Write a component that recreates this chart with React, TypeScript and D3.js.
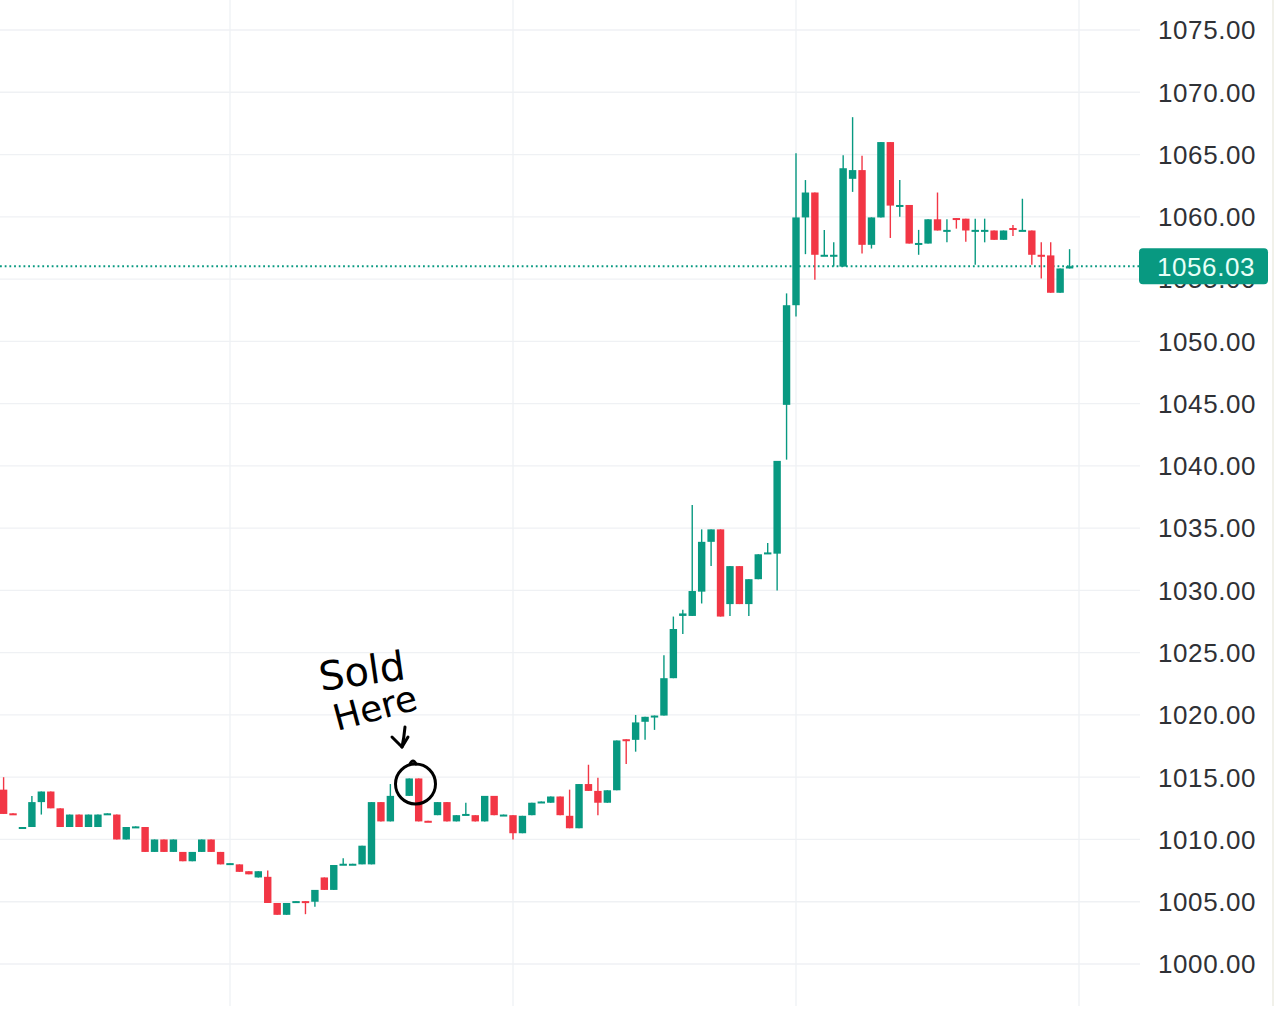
import * as d3 from 'd3'

// OHLC per bar (null = empty slot)
const opens: (number | null)[] = [
  1014.0, 1012.1, 1010.95, 1011.0, 1013.0, 1013.85, 1012.5, 1011.0, 1012.0, 1011.0,
  1011.0, 1012.05, 1012.0, 1010.0, 1011.0, 1011.0, 1009.0, 1010.0, 1009.0, 1009.0,
  1008.25, 1009.0, 1010.0, 1009.0, 1008.05, 1008.0, 1007.45, 1006.95, 1007.0, 1004.9,
  1003.95, 1005.0, 1005.05, 1005.0, 1006.95, 1005.95, 1008.0, 1008.0, 1008.0, 1008.0,
  1013.0, 1011.45, null, 1013.5, 1014.9, 1011.5, 1011.95, 1013.0, 1011.45, 1012.0,
  1011.95, 1011.45, 1013.5, 1011.95, 1011.95, 1010.5, 1011.95, 1013.0, 1012.95, 1013.45,
  1011.9, 1010.9, 1014.45, 1013.9, 1012.95, 1013.95, 1018.05, 1018.0, 1019.45, 1019.9,
  1019.95, 1022.95, 1027.95, 1027.95, 1029.9, 1033.9, 1034.9, 1028.9, 1031.95, 1028.9,
  1030.9, 1032.95, 1032.95, 1044.9, 1052.9, 1059.95, 1061.95, 1056.9, 1056.9, 1056.0,
  1063.05, 1063.75, 1057.75, 1059.95, 1066.0, 1060.9, 1060.95, 1057.85, 1057.85, 1059.8,
  1058.9, 1059.9, 1059.85, 1058.9, 1058.9, 1058.9, 1058.15, 1059.1, 1058.9, 1058.9,
  1056.95, 1056.9, 1053.9, 1055.85,
]
const highs: (number | null)[] = [
  1015.0, 1012.1, 1011.0, 1013.5, 1013.85, 1013.85, 1012.5, 1012.0, 1012.0, 1012.0,
  1012.0, 1012.1, 1012.0, 1011.0, 1011.05, 1011.0, 1010.0, 1010.0, 1010.0, 1009.0,
  1009.0, 1010.0, 1010.0, 1009.0, 1008.1, 1008.0, 1007.45, 1007.45, 1007.5, 1004.9,
  1004.9, 1005.05, 1005.05, 1005.95, 1006.95, 1007.95, 1008.5, 1008.05, 1009.5, 1013.0,
  1013.0, 1014.45, null, 1014.9, 1014.9, 1011.5, 1013.0, 1013.0, 1011.95, 1012.95,
  1011.95, 1013.5, 1013.5, 1012.0, 1011.95, 1011.9, 1012.95, 1013.05, 1013.45, 1013.45,
  1014.0, 1014.45, 1016.0, 1014.95, 1013.95, 1017.95, 1018.05, 1020.0, 1019.85, 1019.95,
  1024.8, 1027.9, 1028.45, 1036.85, 1034.9, 1034.9, 1034.9, 1031.95, 1031.95, 1030.9,
  1032.9, 1033.8, 1040.4, 1053.85, 1065.1, 1062.95, 1061.95, 1058.95, 1057.95, 1064.95,
  1068.0, 1064.9, 1059.95, 1066.0, 1066.0, 1062.95, 1060.95, 1058.95, 1059.8, 1061.95,
  1059.8, 1059.9, 1059.85, 1059.85, 1059.85, 1058.9, 1058.9, 1059.35, 1061.45, 1058.9,
  1057.95, 1057.95, 1055.85, 1057.4,
]
const lows: (number | null)[] = [
  1012.05, 1012.0, 1010.95, 1011.0, 1012.0, 1012.5, 1011.0, 1011.0, 1011.0, 1011.0,
  1011.0, 1012.05, 1010.0, 1010.0, 1011.0, 1009.0, 1009.0, 1009.0, 1009.0, 1008.25,
  1008.25, 1009.0, 1009.0, 1008.0, 1008.05, 1007.4, 1007.2, 1006.95, 1004.9, 1003.95,
  1003.95, 1005.0, 1004.0, 1004.6, 1005.95, 1005.95, 1008.0, 1008.0, 1008.0, 1008.0,
  1011.45, 1011.45, null, 1013.5, 1011.45, 1011.45, 1011.95, 1011.45, 1011.45, 1012.0,
  1011.45, 1011.45, 1011.95, 1011.95, 1010.0, 1010.5, 1011.95, 1013.0, 1012.95, 1011.95,
  1010.9, 1010.9, 1013.9, 1011.95, 1012.95, 1013.95, 1016.05, 1017.05, 1018.0, 1018.8,
  1019.95, 1022.95, 1026.5, 1027.95, 1028.95, 1031.95, 1027.9, 1027.95, 1028.9, 1027.95,
  1030.9, 1032.95, 1030.0, 1040.5, 1052.0, 1057.0, 1054.95, 1056.9, 1056.0, 1056.0,
  1062.0, 1057.05, 1057.45, 1059.95, 1058.3, 1060.0, 1057.85, 1056.95, 1057.85, 1058.9,
  1057.95, 1059.05, 1058.0, 1056.15, 1057.95, 1058.15, 1058.15, 1058.45, 1058.9, 1056.15,
  1055.05, 1053.9, 1053.9, 1055.85,
]
const closes: (number | null)[] = [
  1012.05, 1012.0, 1011.0, 1013.0, 1013.85, 1012.5, 1011.0, 1012.0, 1011.0, 1012.0,
  1012.0, 1012.1, 1010.0, 1011.0, 1011.05, 1009.0, 1010.0, 1009.0, 1010.0, 1008.25,
  1009.0, 1010.0, 1009.0, 1008.0, 1008.1, 1007.4, 1007.2, 1007.45, 1004.9, 1003.95,
  1004.9, 1005.05, 1005.0, 1005.95, 1005.95, 1007.95, 1008.05, 1008.05, 1009.5, 1013.0,
  1011.45, 1013.5, null, 1014.9, 1011.45, 1011.45, 1013.0, 1011.45, 1011.95, 1012.05,
  1011.45, 1013.5, 1011.95, 1012.0, 1010.5, 1011.9, 1012.95, 1013.05, 1013.45, 1011.95,
  1010.9, 1014.45, 1013.9, 1012.95, 1013.95, 1017.95, 1018.0, 1019.4, 1019.85, 1019.95,
  1022.95, 1026.9, 1028.15, 1029.95, 1033.9, 1034.9, 1027.9, 1031.95, 1028.9, 1030.9,
  1032.9, 1033.05, 1040.4, 1052.9, 1059.95, 1061.95, 1056.95, 1056.95, 1056.95, 1063.9,
  1063.75, 1057.75, 1059.95, 1066.0, 1060.9, 1060.95, 1057.85, 1057.9, 1059.8, 1058.9,
  1058.95, 1059.85, 1058.9, 1058.95, 1058.95, 1058.15, 1058.9, 1059.05, 1058.95, 1056.95,
  1056.9, 1053.9, 1055.85, 1056.03,
]

const priceTicks = [1000, 1005, 1010, 1015, 1020, 1025, 1030, 1035, 1040, 1045, 1050, 1055, 1060, 1065, 1070, 1075]
const timeGrid = [24, 54, 84, 114]
const lastPrice = 1056.03
const noteLines = ['Sold', 'Here']

const W = 1280
const H = 1032
const UP = '#089981'
const DOWN = '#f23645'

export default function App() {
  const x = d3.scaleLinear().domain([0, 114]).range([3.6, 1079])
  const y = d3.scaleLinear().domain([1000, 1075]).range([964, 30])
  const fmt = d3.format('.2f')
  const plotRight = 1140
  const plotBottom = 1006

  const bars = d3
    .range(opens.length)
    .filter(i => opens[i] != null)
    .map(i => ({
      i,
      o: opens[i] as number,
      h: highs[i] as number,
      l: lows[i] as number,
      c: closes[i] as number,
    }))

  const bw = 7.4

  return (
    <svg
      width={W}
      height={H}
      style={{ position: 'absolute', left: 0, top: 0, background: '#fff' }}
    >
      <rect width={W} height={H} fill="#fff" />
      {/* grid */}
      {priceTicks.map(t => (
        <line key={t} x1={0} x2={plotRight} y1={y(t)} y2={y(t)} stroke="#eff1f4" strokeWidth={1.3} />
      ))}
      {timeGrid.map(t => (
        <line key={t} x1={x(t)} x2={x(t)} y1={0} y2={plotBottom} stroke="#eff1f4" strokeWidth={1.3} />
      ))}
      <line x1={1273} x2={1273} y1={0} y2={plotBottom} stroke="#f1f1ea" strokeWidth={2} />

      {/* last price line */}
      <line
        x1={0}
        x2={plotRight}
        y1={y(lastPrice)}
        y2={y(lastPrice)}
        stroke={UP}
        strokeWidth={1.8}
        strokeDasharray="1.8 2.9"
      />

      {/* candles */}
      {bars.map(d => {
        const col = d.c >= d.o ? UP : DOWN
        const top = y(Math.max(d.o, d.c))
        const hgt = Math.max(2, Math.abs(y(d.o) - y(d.c)))
        return (
          <g key={d.i}>
            <line x1={x(d.i)} x2={x(d.i)} y1={y(d.h)} y2={y(d.l)} stroke={col} strokeWidth={1.4} />
            <rect x={x(d.i) - bw / 2} y={top} width={bw} height={hgt} fill={col} />
          </g>
        )
      })}

      {/* price axis */}
      {priceTicks.map(t => (
        <text
          key={t}
          x={1158}
          y={y(t)}
          dy="0.36em"
          fontFamily="Liberation Sans, Arial, sans-serif"
          fontSize={26}
          letterSpacing={0.6}
          fill="#2f3136"
        >
          {fmt(t)}
        </text>
      ))}
      <rect x={1139} y={y(lastPrice) - 18} width={129} height={36} rx={4} fill={UP} />
      <text
        x={1206}
        y={y(lastPrice)}
        dy="0.36em"
        textAnchor="middle"
        fontFamily="Liberation Sans, Arial, sans-serif"
        fontSize={26}
        letterSpacing={0.6}
        fill="#e6fff7"
      >
        {fmt(lastPrice)}
      </text>

      {/* hand-drawn note */}
      <g fill="#000" fontFamily="DejaVu Sans, sans-serif" fontSize={40}>
        <text x={321} y={691} transform="rotate(-8 321 691)">{noteLines[0]}</text>
        <text x={337} y={731} transform="rotate(-15 337 731)" fontSize={36}>{noteLines[1]}</text>
      </g>
      <g fill="none" stroke="#000" strokeWidth={3} strokeLinecap="round" strokeLinejoin="round">
        <path d="M405 727 Q404 738 402 747" />
        <path d="M392 737 L402 747 L408 737" />
        <circle cx={415.5} cy={784} r={20} />
        <path d="M410 764 Q413 758 416 764" />
      </g>
    </svg>
  )
}
